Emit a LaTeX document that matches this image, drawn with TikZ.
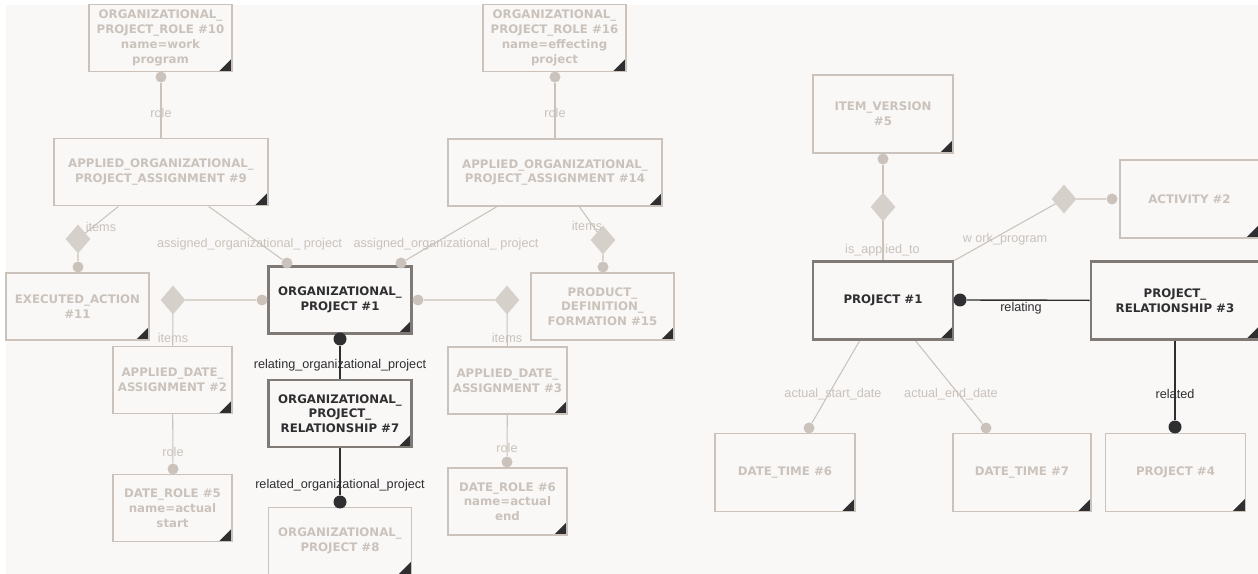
\documentclass[tikz,border=0pt]{standalone}
\usepackage{fontspec}
\setmainfont{Liberation Sans}
\newfontfamily\boxfont{DejaVu Sans}
\usepackage{xcolor}
\usetikzlibrary{shapes.geometric, positioning}
\definecolor{lite}{HTML}{CAC2BB}
\definecolor{liteagg}{HTML}{D6D0CB}
\definecolor{darkframe}{HTML}{807A77}
\definecolor{ink}{HTML}{2F2F31}
\definecolor{canvas}{HTML}{F9F8F7}

\begin{document}
\begin{tikzpicture}[
    x=0.02cm, y=-0.02cm,
    every node/.style={inner sep=0pt},
    entity/.style={draw=lite, line width=1.1pt, text=lite, align=center,
                   font=\boxfont\bfseries\fontsize{6.7}{8.4}\selectfont,
                   minimum width=2.86cm, minimum height=1.34cm,
                   path picture={\fill[ink] (path picture bounding box.south east)
                                 -- ++(-13,0) -- ++(13,-13) -- cycle;}},
    focus/.style={entity, draw=darkframe, line width=1.6pt, text=ink},
    wide/.style={minimum width=4.28cm},
    narrow/.style={minimum width=2.38cm},
    tall/.style={minimum width=2.8cm, minimum height=1.56cm},
    link/.style={draw=lite, line width=0.6pt},
    rel/.style={draw=ink, line width=0.8pt},
    dot/.style={circle, fill=lite, minimum size=0.22cm},
    bigdot/.style={circle, fill=ink, minimum size=0.26cm},
    aggr/.style={diamond, fill=liteagg, draw=liteagg,
                 minimum width=0.48cm, minimum height=0.56cm},
    rolelabel/.style={font=\fontsize{7.2}{8}\selectfont, text=lite},
    rellabel/.style={rolelabel, text=ink}
  ]

  % ===== CANVAS =====
  \useasboundingbox (0,0) rectangle (1258,574);
  \fill[white] (0,0) rectangle (1258,574);
  \fill[canvas] (6,5) rectangle (1258,574);

  % ===== LEFT: ORGANIZATIONAL PROJECT =====
  \node[focus] (orgp1) at (340,300) {ORGANIZATIONAL\_\\PROJECT \#1};

  % work program role
  \node[entity] (role10) at (160.5,38) {ORGANIZATIONAL\_\\PROJECT\_ROLE \#10\\name=work\\program};
  \node[entity, wide] (assign9) at (161,172) {APPLIED\_ORGANIZATIONAL\_\\PROJECT\_ASSIGNMENT \#9};
  \node[dot] (d10) at (161,77) {};
  \draw[link] (d10) -- (assign9);
  \node[rolelabel] (lrole10) at (161,113) {role};

  \node[entity] (exec11) at (77.5,306.5) {EXECUTED\_ACTION\\\#11};
  \node[aggr] (dm9) at (78,239) {};
  \node[dot] (d11) at (78,267) {};
  \draw[link] (assign9) -- (dm9) -- (d11) -- (exec11);
  \node[rolelabel] (litems9) at (101,227) {items};

  \node[dot] (dtop1a) at (287,263) {};
  \draw[link] (assign9) -- (dtop1a);
  \node[rolelabel] (lassign9) at (249.5,244) {assigned\_organizational\_ project};

  % effecting project role
  \node[entity] (role16) at (554.5,38) {ORGANIZATIONAL\_\\PROJECT\_ROLE \#16\\name=effecting\\project};
  \node[entity, wide] (assign14) at (555,172.5) {APPLIED\_ORGANIZATIONAL\_\\PROJECT\_ASSIGNMENT \#14};
  \node[dot] (d16) at (555,77) {};
  \draw[link] (d16) -- (assign14);
  \node[rolelabel] (lrole16) at (555,113) {role};

  \node[entity] (pdf15) at (602.5,306.5) {PRODUCT\_\\DEFINITION\_\\FORMATION \#15};
  \node[aggr] (dm14) at (603,240) {};
  \node[dot] (d15) at (603,267) {};
  \draw[link] (assign14) -- (dm14) -- (d15) -- (pdf15);
  \node[rolelabel] (litems14) at (587,226) {items};

  \node[dot] (dtop1b) at (401,263) {};
  \draw[link] (assign14) -- (dtop1b);
  \node[rolelabel] (lassign14) at (446,244) {assigned\_organizational\_ project};

  % date assignments
  \node[entity, narrow] (date2) at (172.5,380) {APPLIED\_DATE\_\\ASSIGNMENT \#2};
  \node[aggr] (dm1l) at (173,300) {};
  \node[dot] (dl1) at (262,300) {};
  \draw[link] (dl1) -- (dm1l) -- (date2);
  \node[rolelabel] (litems2) at (173,338) {items};

  \node[entity, narrow] (drole5) at (172.5,508) {DATE\_ROLE \#5\\name=actual\\start};
  \node[dot] (d5) at (173,469) {};
  \draw[link] (date2) -- (d5);
  \node[rolelabel] (lrole2) at (173,452) {role};

  \node[entity, narrow] (date3) at (507.5,380.5) {APPLIED\_DATE\_\\ASSIGNMENT \#3};
  \node[aggr] (dm1r) at (507,300) {};
  \node[dot] (dr1) at (418,300) {};
  \draw[link] (dr1) -- (dm1r) -- (date3);
  \node[rolelabel] (litems3) at (507,338) {items};

  \node[entity, narrow] (drole6) at (507.5,501.5) {DATE\_ROLE \#6\\name=actual\\end};
  \node[dot] (d6) at (507,462) {};
  \draw[link] (date3) -- (d6);
  \node[rolelabel] (lrole3) at (507,448) {role};

  % relationship
  \node[focus] (orel7) at (340,413.5) {ORGANIZATIONAL\_\\PROJECT\_\\RELATIONSHIP \#7};
  \node[bigdot] (db1) at (340,339) {};
  \draw[rel] (db1) -- (orel7);
  \node[rellabel] (lrelating7) at (340,365) {relating\_organizational\_project};

  \node[entity] (orgp8) at (340,541) {ORGANIZATIONAL\_\\PROJECT \#8};
  \node[bigdot] (db8) at (340,502) {};
  \draw[rel] (orel7) -- (db8);
  \node[rellabel] (lrelated7) at (340,485) {related\_organizational\_project};

  % ===== RIGHT: PROJECT =====
  \node[focus, tall] (proj1) at (883,300.5) {PROJECT \#1};

  \node[entity, tall] (itemv5) at (883,114) {ITEM\_VERSION\\\#5};
  \node[aggr] (dmiv) at (883,207) {};
  \node[dot] (div) at (883,159) {};
  \draw[link] (proj1) -- (dmiv) -- (div);
  \node[rolelabel] (lapplied) at (882.5,250) {is\_applied\_to};

  \node[entity, tall, minimum width=2.78cm] (act2) at (1189.5,199) {ACTIVITY \#2};
  \node[aggr] (dmwp) at (1064,199) {};
  \node[dot] (dwp) at (1112,199) {};
  \draw[link] (proj1) -- (dmwp) -- (dwp);
  \node[rolelabel] (lworkprog) at (1005,239) {w ork\_program};

  \node[focus, tall, minimum width=3.36cm] (prel3) at (1175,300.5) {PROJECT\_\\RELATIONSHIP \#3};
  \node[bigdot] (drp1) at (960,300) {};
  \draw[rel] (drp1) -- (prel3);
  \node[rellabel] (lrelating3) at (1021,308) {relating};

  \node[entity, tall] (proj4) at (1175.5,472.5) {PROJECT \#4};
  \node[bigdot] (dp4) at (1175,427) {};
  \draw[rel] (prel3) -- (dp4);
  \node[rellabel] (lrelated3) at (1175,394) {related};

  % dates
  \node[entity, tall] (dt6) at (785,472.5) {DATE\_TIME \#6};
  \node[dot] (ddt6) at (809,428) {};
  \draw[link] (proj1) -- (ddt6);
  \node[rolelabel] (lstart) at (833,394) {actual\_start\_date};

  \node[entity, tall, minimum width=2.76cm] (dt7) at (1022,472.5) {DATE\_TIME \#7};
  \node[dot] (ddt7) at (986,428) {};
  \draw[link] (proj1) -- (ddt7);
  \node[rolelabel] (lend) at (951,394) {actual\_end\_date};

\end{tikzpicture}
\end{document}
